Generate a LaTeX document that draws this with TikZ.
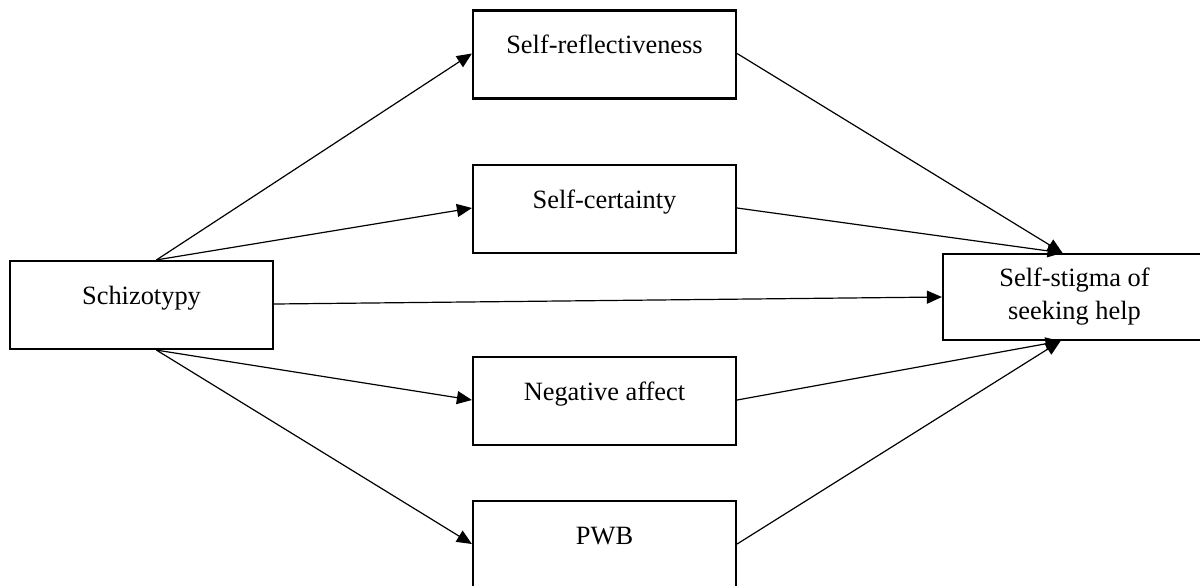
\documentclass[tikz,border=0pt]{standalone}
\usepackage{fontspec}
\setmainfont{Liberation Serif}
\usetikzlibrary{arrows.meta,positioning}

\begin{document}
\begin{tikzpicture}[x=0.5pt,y=-0.5pt,>={Triangle[length=7.5pt,width=6.5pt]},
  box/.style={draw,line width=1.1pt,minimum width=131.5pt,inner xsep=0pt,inner ysep=0pt,font=\fontsize{13.2}{16.5}\selectfont},
  single/.style={box,text height=21.5pt,text depth=22.5pt},
  path/.style={->,line width=0.6pt}]
\useasboundingbox (0,0) rectangle (1200,585);
\clip (0,0) rectangle (1200,585);
\node[single] (schizo) at (141.5,305) {Schizotypy};
\node[single] (srefl) at (604.5,54.5) {Self-reflectiveness};
\node[single] (scert) at (604.5,209) {Self-certainty};
\node[single] (negaff) at (604.5,401) {Negative affect};
\node[single] (pwb) at (604.5,545) {PWB};
\node[box,minimum height=43pt,align=center] (stigma) at (1074.5,297) {Self-stigma of\\seeking help};
\coordinate (sout) at ([xshift=7.5pt]schizo.north);
\coordinate (sin) at ([xshift=7.5pt]schizo.south);
\coordinate (tin) at ([xshift=-6pt]stigma.north);
\coordinate (bin) at ([xshift=-7pt]stigma.south);
\draw[path] (sout)--(srefl.base west);
\draw[path] (sout)--(scert.base west);
\draw[path] (sin)--(negaff.base west);
\draw[path] (sin)--(pwb.base west);
\draw[path] (schizo.base east)--(stigma.west);
\draw[path] (srefl.base east)--(tin);
\draw[path] (scert.base east)--(tin);
\draw[path] (negaff.base east)--(bin);
\draw[path] (pwb.base east)--(bin);
\end{tikzpicture}
\end{document}
